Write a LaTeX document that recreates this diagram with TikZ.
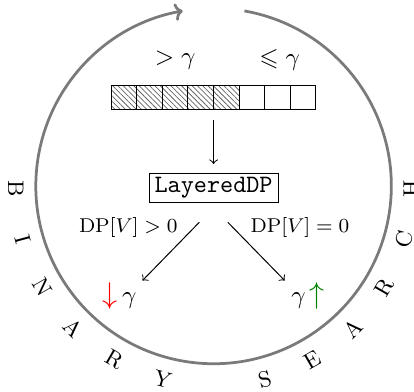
\documentclass[tikz,border=0pt]{standalone}
\usepackage{amssymb}
\usetikzlibrary{patterns.meta,calc,arrows.meta}
\begin{document}
\begin{tikzpicture}[
  cell/.style={draw, minimum width=0.36cm, minimum height=0.35cm, inner sep=0pt, outer sep=0pt},
  hcell/.style={cell, pattern={Lines[angle=-45, distance=1.5pt, line width=0.3pt]}, pattern color=black!60},
  ring/.style={black!52, line width=1.1pt},
  lbl/.style={font=\footnotesize, inner sep=1pt},
  letter/.style={font=\small, inner sep=0pt},
  conn/.style={->, >=to}
]
\useasboundingbox (-3.004,-2.897) rectangle (2.819,2.616);
% ring with arrow
\draw[ring,-{To[length=3.2pt, width=7pt]}] (80:2.5) arc[start angle=80, end angle=-260, radius=2.5];
% array
\foreach \i in {0,...,4}{
  \node[hcell] (c\i) at ({-1.26+0.36*\i},1.245) {};
}
\foreach \i in {5,...,7}{
  \node[cell] (c\i) at ({-1.26+0.36*\i},1.245) {};
}
\node (gt) at (-0.54,1.77) {$>\gamma$};
\node (le) at (0.93,1.77) {$\leqslant\gamma$};
% LayeredDP
\node[draw, inner xsep=2.2pt, inner ysep=1.6pt] (ldp) at (0,-0.03) {\texttt{LayeredDP}};
\coordinate (a1) at (0,0.93);
\coordinate (a2) at (0,0.31);
\draw[conn] (a1) -- (a2);
\coordinate (l1) at (-0.2,-0.51);
\coordinate (l2) at (-1.0,-1.33);
\coordinate (r1) at (0.2,-0.51);
\coordinate (r2) at (1.0,-1.33);
\draw[conn] (l1) -- (l2);
\draw[conn] (r1) -- (r2);
\node[lbl] (dl) at (-1.2,-0.59) {DP$[V]>0$};
\node[lbl] (dr) at (1.215,-0.59) {DP$[V]=0$};
\node (lo) at (-1.32,-1.55) {{\large$\color{red}\downarrow$}\,$\gamma$};
\node (hi) at (1.33,-1.55) {$\gamma$\,{\large$\color{green!50!black}\uparrow$}};
% letters
\begin{scope}[shift={(0,-0.035)}]
\foreach \ch [count=\k from 0] in {B,I,N,A,R,Y}{
  \node[letter, rotate={180+15*\k+90}] (bl\k) at ({180+15*\k}:2.78) {\ch};
}
\foreach \ch [count=\k from 0] in {S,E,A,R,C,H}{
  \node[letter, rotate={285+15*\k+90}] (sl\k) at ({285+15*\k}:2.78) {\ch};
}
\end{scope}
\end{tikzpicture}
\end{document}
